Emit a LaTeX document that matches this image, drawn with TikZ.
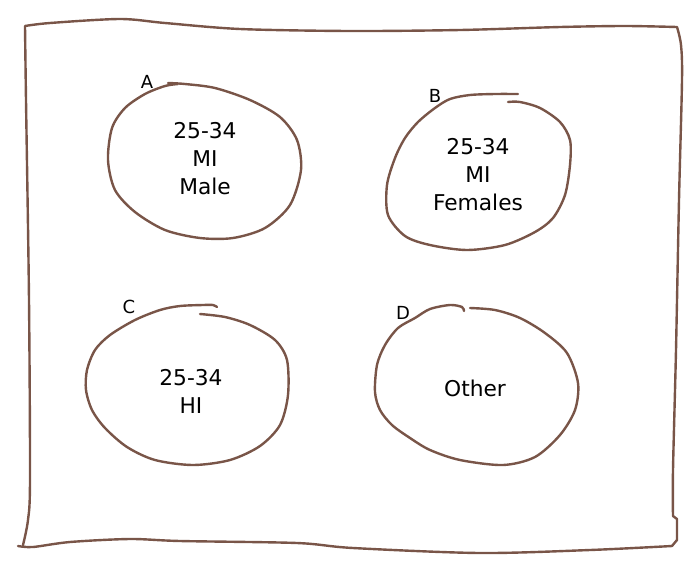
\documentclass[tikz,border=0pt]{standalone}
\usepackage{fontspec}
\setmainfont{DejaVu Sans}
\definecolor{pen}{RGB}{121,85,72}

\begin{document}
\begin{tikzpicture}[
    x=0.75pt, y=-0.75pt,
    ink/.style={draw=pen, line width=1.8pt, line cap=round, line join=round},
    txt/.style={align=center, inner sep=0pt, font=\fontsize{16.3}{21}\selectfont},
    tag/.style={inner sep=0pt, font=\fontsize{13.5}{15}\selectfont},
  ]
  \useasboundingbox (0,0) rectangle (700,569);
  % outer frame
  \draw[ink] plot[smooth] coordinates {(25,26) (50,23) (120,19) (165,23) (240,29) (350,31) (460,30) (560,27) (625,26) (677,27)}
    -- plot[smooth] coordinates {(677,27) (681,45) (682,80) (679,200) (676,350) (673,470) (673,516)}
    -- (677,519) -- (677,540) -- (672,546)
    -- plot[smooth] coordinates {(672,546) (590,550) (480,553) (353,548) (297,543) (180,541) (130,539) (70,542) (33,547) (18,546)}
    plot[smooth] coordinates {(23,545) (28,520) (30,480) (29,300) (26,100) (25,26)};
  % groups
  \draw[ink] plot[smooth] coordinates {(168,83) (185,84) (215,88) (250,100) (280,117) (297,140) (301,170) (290,205) (265,228) (233,238) (200,238) (165,230) (135,212) (115,190) (108,160) (112,128) (125,108) (145,94) (165,86) (178,84)};
  \draw[ink] plot[smooth] coordinates {(518,94) (495,94) (470,95) (450,99) (435,108) (418,122) (405,138) (395,158) (387,185) (388,215) (405,236) (430,245) (467,250) (505,245) (535,232) (553,218) (565,195) (570,165) (570,140) (560,122) (540,108) (520,102) (508,102)};
  \draw[ink] plot[smooth] coordinates {(217,307) (213,305) (203,305) (180,306) (160,310) (135,320) (110,335) (95,350) (87,370) (86,390) (92,410) (105,428) (127,447) (155,460) (193,465) (230,460) (260,446) (280,425) (288,395) (287,360) (275,340) (250,325) (225,317) (200,314)};
  \draw[ink] plot[smooth] coordinates {(464,311) (462,307) (450,305) (430,309) (415,318) (398,328) (385,345) (377,365) (375,392) (380,410) (392,425) (410,438) (430,450) (460,460) (503,465) (535,457) (560,435) (575,410) (578,383) (567,353) (545,333) (520,318) (495,310) (470,308)};
  \node[txt] (male) at (205,159) {25-34\\MI\\Male};
  \node[txt] (female) at (478,175) {25-34\\MI\\Females};
  \node[txt] (hi) at (191,391) {25-34\\HI};
  \node[txt] (other) at (475,388) {Other};
  \node[tag] (tagA) at (147,82) {A};
  \node[tag] (tagB) at (435,96) {B};
  \node[tag] (tagC) at (129,307) {C};
  \node[tag] (tagD) at (403,313) {D};
\end{tikzpicture}
\end{document}
